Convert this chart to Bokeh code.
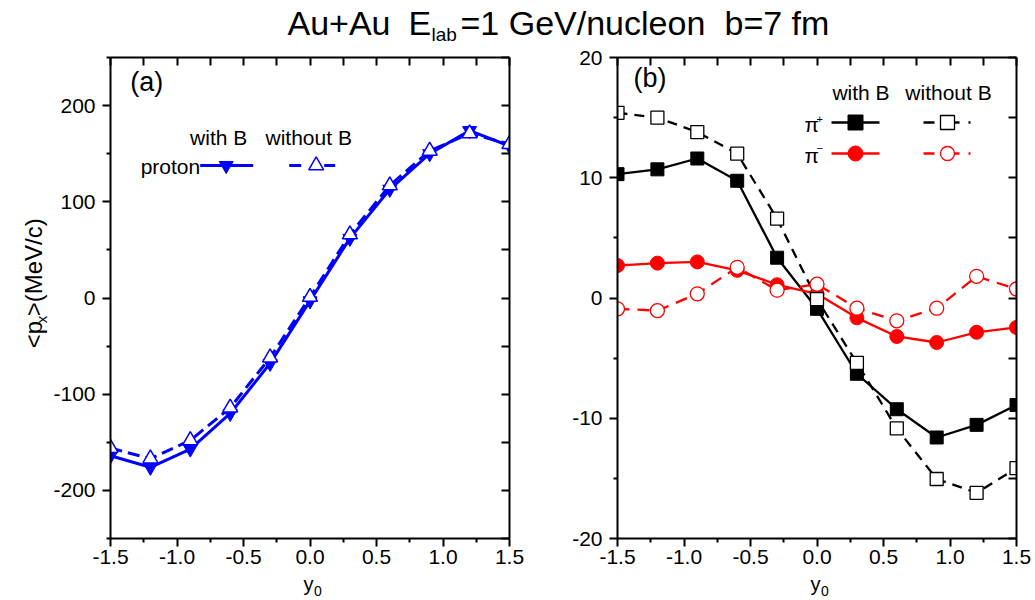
from bokeh.plotting import figure
from bokeh.models import Range1d, LinearAxis, Label, FixedTicker, PrintfTickFormatter
from bokeh.layouts import column, row
from bokeh.embed import file_html
from bokeh.resources import INLINE

FONT = "Liberation Sans"

# ---------------- data ----------------
y0 = [-1.5, -1.2, -0.9, -0.6, -0.3, 0.0, 0.3, 0.6, 0.9, 1.2, 1.5]

proton_with_B = [-164, -176, -157, -120, -68, -3, 62, 113, 150, 174, 158]
proton_without_B = [-156, -167, -148, -114, -62, 1, 66, 117, 153, 171, 160]

pip_with_B = [10.3, 10.7, 11.6, 9.75, 3.35, -0.9, -6.3, -9.25, -11.6, -10.55, -8.9]
pip_without_B = [15.4, 15.0, 13.8, 12.0, 6.6, -0.1, -5.4, -10.85, -15.05, -16.2, -14.15]
pim_with_B = [2.7, 2.9, 3.0, 2.3, 1.1, 0.35, -1.65, -3.2, -3.7, -2.85, -2.45]
pim_without_B = [-0.9, -1.05, 0.35, 2.55, 0.65, 1.15, -0.85, -1.9, -0.85, 1.8, 0.75]

x_major = [-1.5, -1.0, -0.5, 0.0, 0.5, 1.0, 1.5]
x_minor = [-1.25, -0.75, -0.25, 0.25, 0.75, 1.25]
ya_major = [-200, -100, 0, 100, 200]
ya_minor = [-250, -150, -50, 50, 150, 250]
yb_major = [-20, -10, 0, 10, 20]
yb_minor = [-15, -5, 5, 15]

BLUE = "#0000FF"
RED = "#FF0000"
BLACK = "#000000"

FRAME_W, FRAME_H = 399, 481
TITLE_H = 45
TOP, BOTTOM = 12, 33
PANEL_H = TOP + FRAME_H + BOTTOM
XLAB_H = 600 - TITLE_H - PANEL_H
YLAB_W = 50
FRAME_TOP = TITLE_H + TOP
TICK_FS = "21px"


def panel(yr, ymaj, ymin, left, right):
    p = figure(frame_width=FRAME_W, frame_height=FRAME_H, title=None,
               x_range=Range1d(-1.5, 1.5), y_range=Range1d(*yr),
               output_backend="svg", toolbar_location=None,
               min_border_left=left, min_border_right=right,
               min_border_top=TOP, min_border_bottom=BOTTOM)
    p.grid.visible = False
    p.outline_line_color = None
    p.xaxis.ticker = FixedTicker(ticks=x_major, minor_ticks=x_minor)
    p.yaxis.ticker = FixedTicker(ticks=ymaj, minor_ticks=ymin)
    p.xaxis.formatter = PrintfTickFormatter(format="%.1f")
    p.yaxis.formatter = PrintfTickFormatter(format="%d")
    for ax in (p.xaxis[0], p.yaxis[0]):
        ax.axis_line_width = 2
        ax.major_tick_line_width = 2
        ax.minor_tick_line_width = 2
        ax.major_tick_out = 8
        ax.major_tick_in = 0
        ax.minor_tick_out = 4
        ax.minor_tick_in = 0
        ax.major_label_text_font = FONT
        ax.major_label_text_font_size = TICK_FS
        ax.major_label_text_color = BLACK
    p.xaxis.major_label_standoff = 3
    p.yaxis.major_label_standoff = 7
    # mirrored axes (top / right) with inward ticks, no labels
    for side, ticks in (("above", sorted(x_major + x_minor)), ("right", sorted(ymaj + ymin))):
        ax = LinearAxis(ticker=FixedTicker(ticks=ticks, minor_ticks=[]))
        ax.axis_line_width = 2
        ax.major_tick_line_width = 2
        ax.major_tick_in = 8
        ax.major_tick_out = 0
        ax.minor_tick_in = 0
        ax.minor_tick_out = 0
        ax.major_label_text_color = None
        ax.major_label_text_font_size = "0px"
        ax.major_label_standoff = 0
        p.add_layout(ax, side)
    return p


def px(p, X, Y, left):
    """page pixel -> data coords of panel p whose frame starts at page x=left, y=FRAME_TOP"""
    fx = (X - left) / FRAME_W
    fy = 1 - (Y - FRAME_TOP) / FRAME_H
    x0, x1 = p.x_range.start, p.x_range.end
    ya, yb = p.y_range.start, p.y_range.end
    return x0 + fx * (x1 - x0), ya + fy * (yb - ya)


def label(p, x, y, text, size, **kw):
    p.add_layout(Label(x=x, y=y, text=text, text_font=FONT, text_font_size=size,
                       text_color=BLACK, text_baseline="middle", **kw))


def strip(w, h):
    s = figure(width=w, height=h, title=None, x_range=Range1d(0, w), y_range=Range1d(0, h),
               output_backend="svg", toolbar_location=None, min_border=0,
               x_axis_type=None, y_axis_type=None)
    s.grid.visible = False
    s.outline_line_color = None
    return s


# ---------------- panel (a) ----------------
LA = 109.3
pa = panel((-250, 250), ya_major, ya_minor, 109 - YLAB_W, 48)

pa.line(y0, proton_with_B, line_color=BLUE, line_width=3)
pa.scatter(y0, proton_with_B, marker="inverted_triangle", size=14,
           fill_color=BLUE, line_color=BLUE)
pa.line(y0, proton_without_B, line_color=BLUE, line_width=3, line_dash="12 6")
pa.scatter(y0, proton_without_B, marker="triangle", size=15,
           fill_color="white", line_color=BLUE, line_width=1.5)

x, y = px(pa, 129, 81, LA)
label(pa, x, y, "(a)", "27px")

# legend (a)
x, y = px(pa, 217.5, 137, LA)
label(pa, x, y, "with B", "21px", text_align="center")
x, y = px(pa, 307.5, 137, LA)
label(pa, x, y, "without B", "21px", text_align="center")
x, y = px(pa, 199, 166, LA)
label(pa, x, y, "proton", "21px", text_align="right")
xa1, yl = px(pa, 199, 165, LA)
xa2, _ = px(pa, 252, 165, LA)
xm, _ = px(pa, 225, 165, LA)
pa.line([xa1, xa2], [yl, yl], line_color=BLUE, line_width=3)
pa.scatter([xm], [yl], marker="inverted_triangle", size=14, fill_color=BLUE, line_color=BLUE)
s1, _ = px(pa, 288, 165, LA)
s2, _ = px(pa, 300, 165, LA)
s3, _ = px(pa, 323, 165, LA)
s4, _ = px(pa, 334, 165, LA)
xm2, _ = px(pa, 315, 165, LA)
pa.segment(x0=[s1, s3], y0=[yl, yl], x1=[s2, s4], y1=[yl, yl], line_color=BLUE, line_width=3)
pa.scatter([xm2], [yl], marker="triangle", size=15, fill_color="white",
           line_color=BLUE, line_width=1.5)

# ---------------- panel (b) ----------------
LB = 616
pb = panel((-20, 20), yb_major, yb_minor, 60, 20)

pb.line(y0, pip_with_B, line_color=BLACK, line_width=2.3)
pb.scatter(y0, pip_with_B, marker="square", size=13, fill_color=BLACK, line_color=BLACK)
pb.line(y0, pim_with_B, line_color=RED, line_width=2.3)
pb.scatter(y0, pim_with_B, marker="circle", size=14, fill_color=RED, line_color=RED)
pb.line(y0, pip_without_B, line_color=BLACK, line_width=2.3, line_dash="10 7")
pb.scatter(y0, pip_without_B, marker="square", size=13, fill_color="white",
           line_color=BLACK, line_width=1.3)
pb.line(y0, pim_without_B, line_color=RED, line_width=2.3, line_dash="12 8")
pb.scatter(y0, pim_without_B, marker="circle", size=14, fill_color="white",
           line_color=RED, line_width=1.3)

x, y = px(pb, 632, 77, LB)
label(pb, x, y, "(b)", "27px")

# legend (b)
x, y = px(pb, 859.5, 92, LB)
label(pb, x, y, "with B", "21px", text_align="center")
x, y = px(pb, 947, 92, LB)
label(pb, x, y, "without B", "21px", text_align="center")

for ypx, sup, sup_y, col, mk in ((122, "+", 118, BLACK, "square"), (153, "\u2212", 147, RED, "circle")):
    x, y = px(pb, 803, ypx + 2, LB)
    label(pb, x, y, "\u03c0", "21px")
    x, y = px(pb, 815, sup_y, LB)
    label(pb, x, y, sup, "11px")
    l1, yl = px(pb, 830, ypx, LB)
    l2, _ = px(pb, 878, ypx, LB)
    lm, _ = px(pb, 854, ypx, LB)
    pb.line([l1, l2], [yl, yl], line_color=col, line_width=2.3)
    pb.scatter([lm], [yl], marker=mk, size=15, fill_color=col, line_color=col)
    d1, _ = px(pb, 922, ypx, LB)
    d2, _ = px(pb, 933, ypx, LB)
    d3, _ = px(pb, 952, ypx, LB)
    d4, _ = px(pb, 958, ypx, LB)
    d5, _ = px(pb, 967, ypx, LB)
    d6, _ = px(pb, 969, ypx, LB)
    dm, _ = px(pb, 946, ypx, LB)
    pb.segment(x0=[d1, d3, d5], y0=[yl] * 3, x1=[d2, d4, d6], y1=[yl] * 3,
               line_color=col, line_width=2.3)
    pb.scatter([dm], [yl], marker=mk, size=14, fill_color="white", line_color=col, line_width=1.3)

# ---------------- y axis label strip: <p_x>(MeV/c) ----------------
ys = strip(YLAB_W, PANEL_H)


def ys_y(page_y):
    return PANEL_H - (page_y - TITLE_H)


ROT = 1.5708
ys.add_layout(Label(x=33, y=ys_y(363), text="<p", angle=ROT, text_font=FONT,
                    text_font_size="24px", text_color=BLACK, text_baseline="middle"))
ys.add_layout(Label(x=41, y=ys_y(335.6), text="x", angle=ROT, text_font=FONT,
                    text_font_size="15px", text_color=BLACK, text_baseline="middle"))
ys.add_layout(Label(x=33, y=ys_y(328), text=">(MeV/c)", angle=ROT, text_font=FONT,
                    text_font_size="24px", text_color=BLACK, text_baseline="middle"))

# ---------------- x axis label strip: y_0 ----------------
XTOP = TITLE_H + PANEL_H
xs = strip(1035, XLAB_H)
for xl in (303, 810):
    xs.add_layout(Label(x=xl, y=XLAB_H - (583 - XTOP), text="y", text_font=FONT,
                        text_font_size="20px", text_color=BLACK, text_baseline="middle"))
    xs.add_layout(Label(x=xl + 10.5, y=XLAB_H - (590 - XTOP), text="0", text_font=FONT,
                        text_font_size="14px", text_color=BLACK, text_baseline="middle"))

# ---------------- title ----------------
t = strip(1035, TITLE_H)
BASE = TITLE_H - 22
for xx, txt in ((287, "Au+Au"), (408, "E"), (460, "=1 GeV/nucleon"), (724, "b=7 fm")):
    t.add_layout(Label(x=xx, y=BASE, text=txt, text_font=FONT, text_font_size="34px",
                       text_color=BLACK, text_baseline="middle"))
t.add_layout(Label(x=431, y=TITLE_H - 34.3, text="lab", text_font=FONT, text_font_size="19px",
                   text_color=BLACK, text_baseline="middle"))

layout = column(t, row(ys, pa, pb, spacing=0), xs, spacing=0)
open("out.html", "w").write(file_html(layout, INLINE))
